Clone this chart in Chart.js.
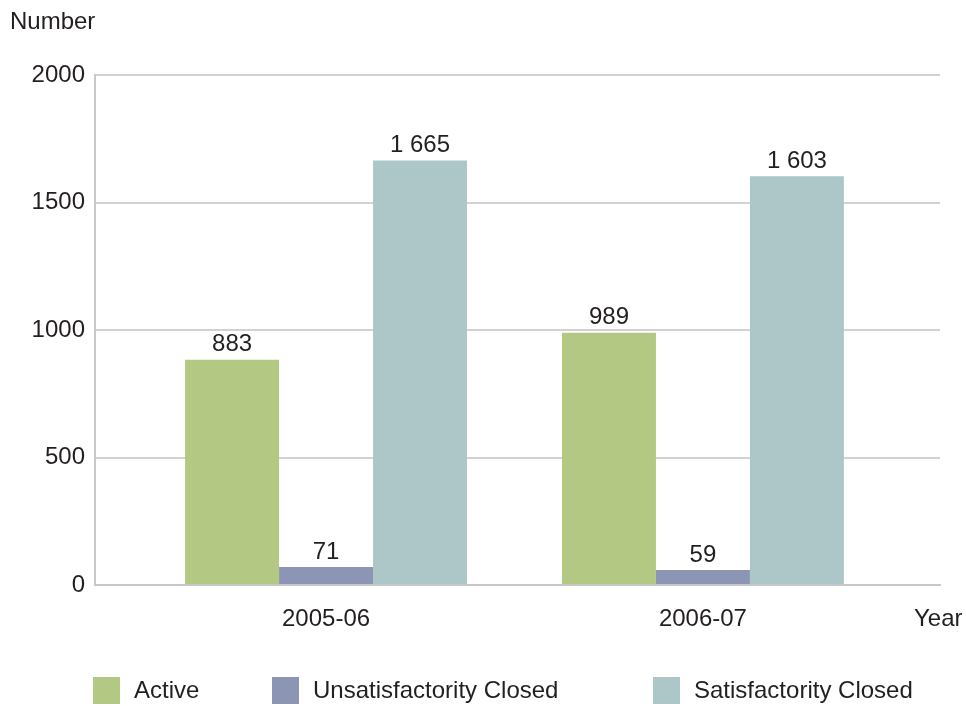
<!DOCTYPE html>
<html>
<head>
<meta charset="utf-8">
<script src="https://cdn.jsdelivr.net/npm/chart.js@4"></script>
<style>
  html, body { margin: 0; padding: 0; background: #fff; }
  #wrap { position: relative; width: 966px; height: 706px; }
  canvas { display: block; }
</style>
</head>
<body>
<div id="wrap"><canvas id="chart" width="966" height="706"></canvas></div>
<script>
// chart data
const categories = ['2005-06', '2006-07'];
const seriesNames = ['Active', 'Unsatisfactority Closed', 'Satisfactority Closed'];
const activeValues = [883, 989];
const unsatisfactoryValues = [71, 59];
const satisfactoryValues = [1665, 1603];
const yTicks = [0, 500, 1000, 1500, 2000];

const colors = ['#b3c882', '#8c95b4', '#adc6c7'];
const textColor = '#231f20';
const fontFamily = '"Liberation Sans", Arial, sans-serif';
const fontSize = 24;

// thousands with a space, e.g. 1 665
function formatValue(v) {
    return String(v).replace(/\B(?=(\d{3})+(?!\d))/g, ' ');
}

// value labels above bars, plus axis titles and legend
const decorations = {
    id: 'decorations',
    afterDatasetsDraw(chart) {
        const ctx = chart.ctx;
        ctx.save();
        ctx.fillStyle = textColor;
        ctx.font = fontSize + 'px ' + fontFamily;
        ctx.textAlign = 'center';
        ctx.textBaseline = 'bottom';
        chart.data.datasets.forEach((ds, i) => {
            chart.getDatasetMeta(i).data.forEach((bar, j) => {
                ctx.fillText(formatValue(ds.data[j].y), bar.x, bar.y - 3);
            });
        });

        ctx.textAlign = 'left';
        ctx.textBaseline = 'middle';
        ctx.fillText('Number', 10, 22);
        ctx.fillText('Year', 914, 619);

        // legend
        const legendX = [93, 272, 653];
        seriesNames.forEach((name, i) => {
            ctx.fillStyle = colors[i];
            ctx.fillRect(legendX[i], 677, 27, 27);
            ctx.fillStyle = textColor;
            ctx.fillText(name, legendX[i] + 41, 691);
        });
        ctx.restore();
    }
};

function toPoints(values) {
    return values.map((v, i) => ({ x: i + 1, y: v }));
}

new Chart(document.getElementById('chart'), {
    type: 'bar',
    data: {
        datasets: [
            { label: seriesNames[0], data: toPoints(activeValues), backgroundColor: colors[0] },
            { label: seriesNames[1], data: toPoints(unsatisfactoryValues), backgroundColor: colors[1] },
            { label: seriesNames[2], data: toPoints(satisfactoryValues), backgroundColor: colors[2] }
        ]
    },
    options: {
        responsive: false,
        animation: false,
        barPercentage: 1,
        categoryPercentage: 0.748,
        layout: { padding: { top: 75, right: 26, left: 0, bottom: 0 } },
        plugins: {
            legend: { display: false },
            tooltip: { enabled: false }
        },
        scales: {
            x: {
                type: 'linear',
                offset: false,
                min: 0.387,
                max: 2.629,
                afterBuildTicks: (scale) => {
                    scale.ticks = categories.map((c, i) => ({ value: i + 1 }));
                },
                afterFit: (scale) => { scale.height = 121; },
                ticks: {
                    color: textColor,
                    font: { size: fontSize, family: fontFamily },
                    padding: 20,
                    autoSkip: false,
                    maxRotation: 0,
                    callback: (value) => categories[Math.round(value) - 1] || ''
                },
                grid: { display: false, drawTicks: false, offset: false },
                border: { color: '#c8c8c8', width: 2 }
            },
            y: {
                min: 0,
                max: 2000,
                afterBuildTicks: (scale) => {
                    scale.ticks = yTicks.map(v => ({ value: v }));
                },
                afterFit: (scale) => { scale.width = 95; },
                ticks: {
                    color: textColor,
                    font: { size: fontSize, family: fontFamily },
                    padding: 10,
                    callback: (value) => String(value)
                },
                grid: { color: '#d2d2d2', lineWidth: 2, drawTicks: false },
                border: { color: '#c8c8c8', width: 2 }
            }
        }
    },
    plugins: [decorations]
});
</script>
</body>
</html>
